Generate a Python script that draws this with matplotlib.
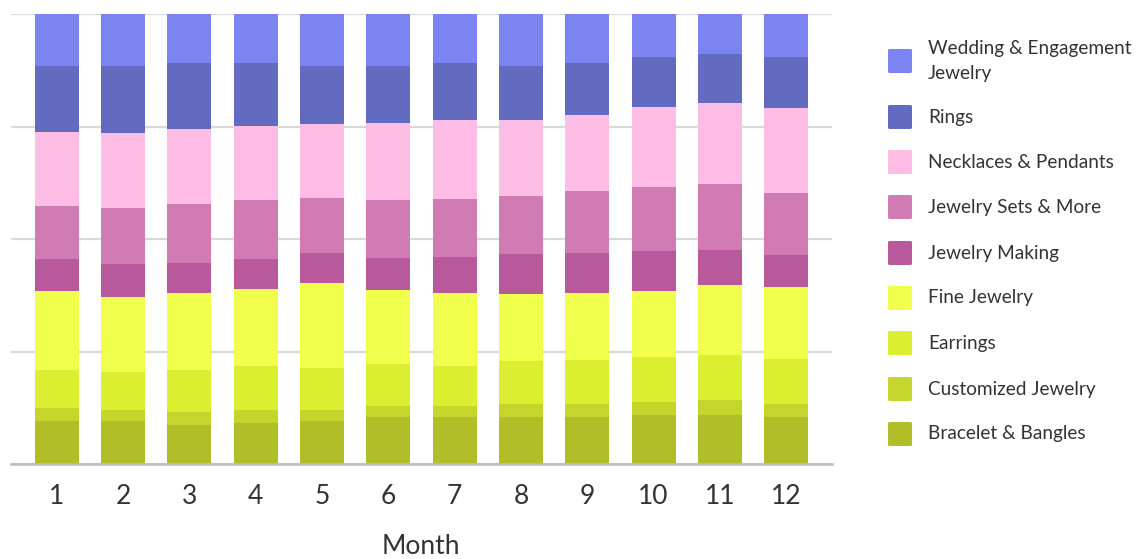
import matplotlib
matplotlib.use("Agg")
import matplotlib.pyplot as plt
from matplotlib.patches import FancyBboxPatch
import numpy as np

months = [1, 2, 3, 4, 5, 6, 7, 8, 9, 10, 11, 12]
categories = ["Bracelet & Bangles", "Customized Jewelry", "Earrings", "Fine Jewelry",
              "Jewelry Making", "Jewelry Sets & More", "Necklaces & Pendants", "Rings",
              "Wedding & Engagement\nJewelry"]
colors = ["#B1BE28", "#C6D52B", "#DBEF30", "#F1FF4D", "#B8599B", "#D07BB3",
          "#FEBDE5", "#626BBF", "#7B84F0"]

bracelet   = [9.6, 9.6, 8.7, 9.1, 9.6, 10.5, 10.5, 10.5, 10.5, 10.9, 10.9, 10.5]
customized = [2.9, 2.4, 2.9, 2.9, 2.4, 2.4, 2.4, 2.9, 2.9, 2.9, 3.3, 2.9]
earrings   = [8.5, 8.5, 9.4, 9.8, 9.4, 9.4, 8.9, 9.4, 9.8, 10.0, 10.0, 10.0]
fine       = [17.6, 16.7, 17.1, 17.1, 18.9, 16.3, 16.3, 14.9, 14.9, 14.7, 15.6, 16.0]
making     = [7.1, 7.3, 6.7, 6.7, 6.7, 7.1, 8.0, 8.9, 8.9, 8.9, 7.8, 7.1]
sets       = [11.8, 12.5, 13.1, 13.1, 12.2, 13.1, 12.9, 12.9, 13.8, 14.3, 14.5, 13.8]
necklaces  = [16.5, 16.5, 16.7, 16.3, 16.3, 17.1, 17.4, 16.9, 16.9, 17.6, 18.0, 18.9]
rings      = [14.7, 15.1, 14.5, 14.0, 13.1, 12.7, 12.7, 12.2, 11.4, 11.1, 10.9, 11.4]
wedding    = [11.4, 11.4, 10.9, 10.9, 11.4, 11.4, 10.9, 11.4, 10.9, 9.6, 8.9, 9.4]

series = [bracelet, customized, earrings, fine, making, sets, necklaces, rings, wedding]

plt.rcParams['font.family'] = ['Lato', 'DejaVu Sans']

W, H = 1147, 559
fig = plt.figure(figsize=(W / 100, H / 100), dpi=100)
ax = fig.add_axes([11 / W, (H - 464) / H, (832 - 11) / W, (464 - 14.3) / H])

data = np.array(series, dtype=float)
data = data / data.sum(axis=0) * 100
x = np.array(months)
bw = 0.662
bottom = np.zeros(len(months))
for i, (vals, c) in enumerate(zip(data, colors)):
    ax.bar(x, vals, bw, bottom=bottom, color=c, linewidth=0, zorder=3)
    bottom += vals

ax.set_xlim(1 - 0.69, 12 + 0.69)
ax.set_ylim(0, 100)
ax.set_yticks([0, 25, 50, 75, 100])
ax.yaxis.grid(True, color="#d9d9d9", linewidth=1.6, zorder=0)
ax.set_axisbelow(True)
ax.tick_params(axis='y', left=False, labelleft=False)
ax.tick_params(axis='x', bottom=False, labelsize=19, labelcolor="#333333", pad=11)
ax.set_xticks(months)
ax.set_xticklabels([str(m) for m in months])
for s in ["top", "right", "left"]:
    ax.spines[s].set_visible(False)
ax.spines["bottom"].set_color("#bdbdbd")
ax.spines["bottom"].set_linewidth(1.8)
ax.spines["bottom"].set_zorder(4)
fig.text(421 / W, (H - 546) / H, "Month", fontsize=19, color="#333333",
         ha="center", va="center")

# legend (top to bottom: reversed stacking order)
leg_centers = [61, 117, 162, 207, 253, 298, 343, 389, 434]
for cy, cat, c in zip(leg_centers, categories[::-1], colors[::-1]):
    sq = FancyBboxPatch((888 / W, (H - cy - 12) / H), 24 / W, 24 / H,
                        boxstyle="round,pad=0,rounding_size=0.002",
                        transform=fig.transFigure, facecolor=c, edgecolor="none")
    fig.patches.append(sq)
    fig.text(928 / W, (H - cy) / H, cat, fontsize=13.7, color="#333333",
             va="center", ha="left", linespacing=1.55)

fig.savefig("out.png", dpi=100)
